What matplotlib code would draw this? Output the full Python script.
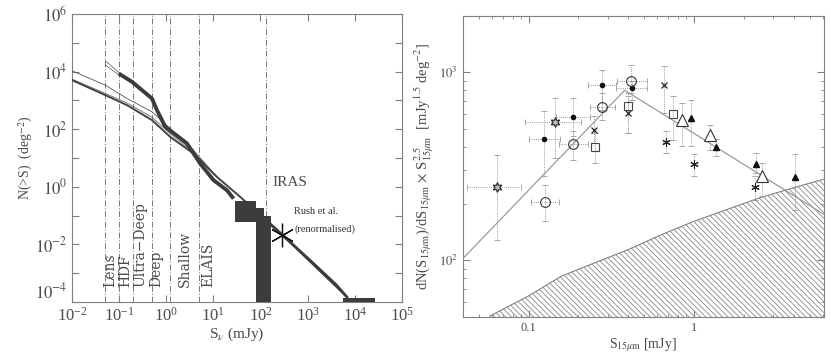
import matplotlib

matplotlib.use("Agg")
import matplotlib.pyplot as plt
import numpy as np
from matplotlib.ticker import NullFormatter

plt.rcParams["font.family"] = ["Liberation Serif", "DejaVu Serif"]
plt.rcParams["mathtext.fontset"] = "stix"
plt.rcParams["hatch.color"] = "#777777"
plt.rcParams["hatch.linewidth"] = 0.6

# ---- left panel: integral counts ------------------------------------------
model_x = [0.01, 0.051, 0.147, 0.5, 1.22, 3.8, 11.9, 37, 285, 6800]
model_a = [10700, 3400, 1170, 403, 106, 18.7, 2.2, 0.45, 0.022, 1.5e-4]
model_b = [5080, 1530, 687, 207, 54, 14.3, 2.2, 0.45, 0.022, 1.5e-4]
model_c_x = [0.01, 0.051, 0.147, 0.5, 1.22, 3.8, 11.9]
model_c = [5500, 1750, 820, 260, 70, 16, 2.2]

isocam_x = [0.098, 0.1875, 0.306, 0.498, 0.636, 0.955, 1.32, 1.83, 2.76, 3.81, 5.28, 10.1, 19.4, 26.9]
isocam_y = [8650, 4440, 2280, 1170, 460, 121, 81, 54, 32, 14.3, 6.4, 1.7, 0.76, 0.39]
lens_x = [0.051, 0.098]
lens_hi = [24000, 9500]
lens_lo = [17000, 7800]

hist_edges = [29, 80, 118, 164]
hist_top = [0.32, 0.19, 0.10]
hist_bot = [0.06, 1e-4, 1e-4]

iras_x = [130, 285, 1320, 4000, 6800]
iras_y = [0.07, 0.022, 2.2e-3, 4e-4, 1.5e-4]
tail_x = [5700, 27000]
tail_top = [1.35e-4, 1.35e-4]

survey_lim = [0.05, 0.1, 0.2, 0.5, 1.2, 5, 130]
survey_names = ["Lens", "HDF", "Ultra\u2212Deep", "Deep", "Shallow", "ELAIS"]
survey_text_x = [0.065, 0.135, 0.28, 0.615, 2.5, 7.9]

rush_x, rush_y = 285, 0.022

# ---- right panel: differential counts -------------------------------------
stars_x = [0.0643, 0.1436]
stars_y = [245, 542]
stars_xlo, stars_xhi = [0.0424, 0.0946], [0.0903, 0.208]
stars_ylo, stars_yhi = [128, 350], [362, 730]

circ_x = [0.125, 0.185, 0.279, 0.416]
circ_y = [205, 416, 651, 899]
circ_xlo, circ_xhi = [0.104, 0.153, 0.234, 0.342], [0.153, 0.228, 0.331, 0.52]
circ_ylo, circ_yhi = [161, 343, 560, 779], [252, 486, 776, 1098]

dot_x = [0.124, 0.185, 0.279, 0.42]
dot_y = [440, 576, 853, 826]
dot_xlo, dot_xhi = [0.101, 0.147, 0.228, 0.339], [0.154, 0.234, 0.339, 0.52]
dot_ylo, dot_yhi = [280, 457, 633, 715], [621, 730, 1034, 895]

cross_x = [0.249, 0.399, 0.655]
cross_y = [495, 608, 853]
cross_ylo, cross_yhi = [421, 476, 608], [583, 745, 1076]

sq_x = [0.251, 0.401, 0.75]
sq_y = [402, 665, 603]
sq_ylo, sq_yhi = [330, 476, 438], [476, 776, 745]

otri_x = [0.85, 1.255, 2.57]
otri_y = [560, 464, 280]
otri_ylo, otri_yhi = [404, 388, 219], [687, 527, 330]

ftri_x = [0.955, 1.35, 2.36, 4.06]
ftri_y = [571, 399, 325, 276]
ftri_ylo, ftri_yhi = [404, 358, 291, 186], [715, 439, 373, 365]

ast_x = [0.674, 0.995, 2.35]
ast_y = [424, 325, 245]
ast_ylo, ast_yhi = [373, 280, 210], [486, 365, 280]

fit_x = [0.0397, 0.381, 6.11]
fit_y = [101, 802, 175]

band_x = [0.0583, 0.0996, 0.158, 0.252, 0.402, 0.64, 1.0, 1.58, 2.51, 4.0, 6.2]
band_y = [50.4, 64.4, 82.2, 96.9, 114, 137, 161, 186, 215, 243, 271]

AX_COL = "#808080"
TXT_COL = "#4a4a4a"
DARK = "#3c3c3c"


def style_axes(ax):
    for s in ax.spines.values():
        s.set_color(AX_COL)
        s.set_linewidth(0.8)
    ax.tick_params(which="both", direction="in", top=True, right=True,
                   colors=AX_COL, labelcolor=TXT_COL)
    ax.tick_params(which="major", length=5)
    ax.tick_params(which="minor", length=2.5)


def errs(v, lo, hi):
    v = np.asarray(v, float)
    return np.vstack([v - np.asarray(lo, float), np.asarray(hi, float) - v])


def series(ax, x, y, ylo, yhi, xlo=None, xhi=None, **kw):
    xe = errs(x, xlo, xhi) if xlo is not None else None
    eb = ax.errorbar(x, y, yerr=errs(y, ylo, yhi), xerr=xe, fmt="none",
                     ecolor="#9a9a9a", elinewidth=0.7, capsize=2, capthick=0.6, zorder=2)
    for lc in eb[2]:
        lc.set_linestyle((0, (1, 1.2)))
    ax.plot(x, y, ls="none", zorder=4, **kw)


fig = plt.figure(figsize=(8.31, 3.59), dpi=100)

# ---------------- left ----------------
ax = fig.add_axes([0.0866, 0.1588, 0.397, 0.802])
ax.set_xscale("log")
ax.set_yscale("log")
ax.set_xlim(1e-2, 1e5)
ax.set_ylim(1e-4, 1e6)

for xv in survey_lim:
    ax.axvline(xv, color="#777777", lw=0.7, ls=(0, (6, 2, 1, 2)), zorder=1)

ax.plot(model_x, model_a, color="#555555", lw=0.6, zorder=3)
ax.plot(model_c_x, model_c, color="#666666", lw=0.6, zorder=3)
ax.plot(model_x, model_b, color="#444444", lw=1.4, zorder=3)
ax.plot(isocam_x, isocam_y, color=DARK, lw=2.8, solid_capstyle="butt", zorder=4)
ax.plot(lens_x, lens_hi, color="#555555", lw=0.5, zorder=4)
ax.plot(lens_x, lens_lo, color="#555555", lw=0.5, zorder=4)
ax.plot(iras_x, iras_y, color=DARK, lw=2.0, zorder=4)
ax.fill_between(hist_edges, hist_bot + hist_bot[-1:], hist_top + hist_top[-1:],
                step="post", color=DARK, lw=0, zorder=5)
ax.fill_between(tail_x, [1e-4, 1e-4], tail_top, color=DARK, lw=0, zorder=5)
ax.plot([rush_x], [rush_y], ls="none", marker=(6, 2, 0), ms=17, mec="#111111",
        mew=0.9, zorder=6)

for name, xt in zip(survey_names, survey_text_x):
    ax.text(xt, 3.3e-4, name, rotation=90, ha="center", va="bottom",
            fontsize=10, family="DejaVu Serif", color=TXT_COL)
ax.text(175, 1.37, "IRAS", ha="left", va="center", fontsize=11, color=TXT_COL)
ax.text(505, 0.135, "Rush et al.", ha="left", va="center", fontsize=7.5, color="#333333")
ax.text(520, 0.035, "(renormalised)", ha="left", va="center", fontsize=7.5, color="#333333")

ax.set_xticks([10.0 ** k for k in range(-2, 6)])
yt = [10.0 ** k for k in range(-4, 7)]
ax.set_yticks(yt)
ax.set_yticklabels(["$10^{%d}$" % k if k % 2 == 0 else "" for k in range(-4, 7)])
ax.minorticks_off()
style_axes(ax)
ax.tick_params(labelsize=12)
ax.get_yticklabels()[0].set_va("bottom")
ax.set_xlabel(r"S$_\nu$ (mJy)", fontsize=11, color=TXT_COL, labelpad=1)
ax.set_ylabel(r"N(>S)  (deg$^{-2}$)", fontsize=10, color=TXT_COL, labelpad=0)

# ---------------- right ----------------
bx = fig.add_axes([0.5568, 0.1178, 0.4348, 0.8385])
bx.set_xscale("log")
bx.set_yscale("log")
bx.set_xlim(0.04, 6.1)
bx.set_ylim(50, 2000)

bx.fill_between(band_x, [40] * len(band_x), band_y, facecolor="none",
                edgecolor="#888888", hatch="\\\\\\\\\\\\", lw=0.6, zorder=1)
bx.plot(band_x, band_y, color="#888888", lw=0.6, zorder=1)
bx.plot(fit_x, fit_y, color="#9a9a9a", lw=0.9, zorder=3)

series(bx, stars_x, stars_y, stars_ylo, stars_yhi, stars_xlo, stars_xhi,
       marker=(6, 1, 0), ms=7, mfc="#bbbbbb", mec="#222222", mew=0.8)
series(bx, dot_x, dot_y, dot_ylo, dot_yhi, dot_xlo, dot_xhi,
       marker="o", ms=3, mfc="#111111", mec="#111111")
series(bx, circ_x, circ_y, circ_ylo, circ_yhi, circ_xlo, circ_xhi,
       marker="o", ms=7, mfc="none", mec="#333333", mew=0.8)
series(bx, cross_x, cross_y, cross_ylo, cross_yhi,
       marker="x", ms=5, mec="#222222", mew=0.9)
series(bx, sq_x, sq_y, sq_ylo, sq_yhi,
       marker="s", ms=5.5, mfc="none", mec="#444444", mew=0.8)
series(bx, otri_x, otri_y, otri_ylo, otri_yhi,
       marker="^", ms=8, mfc="white", mec="#333333", mew=0.8)
series(bx, ftri_x, ftri_y, ftri_ylo, ftri_yhi,
       marker="^", ms=5, mfc="#111111", mec="#111111")
series(bx, ast_x, ast_y, ast_ylo, ast_yhi,
       marker=(6, 2, 0), ms=6, mec="#222222", mew=0.8)

bx.set_xticks([0.1, 1])
bx.set_xticklabels(["0.1", "1"])
bx.set_yticks([100, 1000])
bx.set_yticklabels(["$10^{2}$", "$10^{3}$"])
bx.xaxis.set_minor_formatter(NullFormatter())
bx.yaxis.set_minor_formatter(NullFormatter())
style_axes(bx)
bx.tick_params(labelsize=9)
bx.set_xlabel(r"S$_{15\mu\mathrm{m}}$ [mJy]", fontsize=10, color=TXT_COL, labelpad=2)
bx.set_ylabel(r"dN(S$_{15\mu\mathrm{m}}$)/dS$_{15\mu\mathrm{m}}$ $\times$ "
              r"S$^{2.5}_{15\mu\mathrm{m}}$  [mJy$^{1.5}$ deg$^{-2}$]",
              fontsize=10.5, color=TXT_COL, labelpad=2)

fig.savefig("out.png", dpi=100)
